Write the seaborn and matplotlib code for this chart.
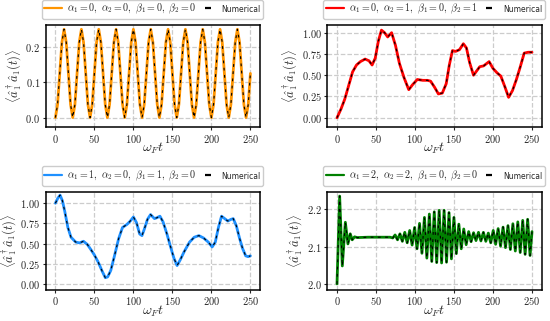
import numpy as np
import matplotlib
matplotlib.use("Agg")
import matplotlib.pyplot as plt
import seaborn as sns
from matplotlib.lines import Line2D

# panel 1: alpha1=0, alpha2=0, beta1=0, beta2=0
t1 = np.linspace(0, 250, 91)
y1 = [0, 0.037, 0.125, 0.213, 0.25, 0.213, 0.125, 0.037,
      0, 0.037, 0.125, 0.213, 0.25, 0.213, 0.125, 0.037,
      0, 0.037, 0.125, 0.213, 0.25, 0.213, 0.125, 0.037,
      0, 0.037, 0.125, 0.213, 0.25, 0.213, 0.125, 0.037,
      0, 0.037, 0.125, 0.213, 0.25, 0.213, 0.125, 0.037,
      0, 0.037, 0.125, 0.213, 0.25, 0.213, 0.125, 0.037,
      0, 0.037, 0.125, 0.213, 0.25, 0.213, 0.125, 0.037,
      0, 0.037, 0.125, 0.213, 0.25, 0.213, 0.125, 0.037,
      0, 0.037, 0.125, 0.213, 0.25, 0.213, 0.125, 0.037,
      0, 0.037, 0.125, 0.213, 0.25, 0.213, 0.125, 0.037,
      0, 0.037, 0.125, 0.213, 0.25, 0.213, 0.125, 0.037,
      0, 0.037, 0.125]

# panel 2: alpha1=0, alpha2=1, beta1=0, beta2=1
t2 = [0, 5, 10, 15, 20, 25, 30, 36, 41, 45, 49, 53, 57, 61, 65, 70, 75, 80, 86, 92,
      97, 103, 110, 116, 120, 125, 130, 135, 140, 144, 148, 152, 157, 162, 166, 170,
      175, 179, 183, 188, 195, 200, 205, 210, 215, 220, 225, 230, 235, 240, 245, 250]
y2 = [0.00, 0.10, 0.22, 0.38, 0.54, 0.62, 0.66, 0.69, 0.67, 0.62, 0.70, 0.90, 1.03,
      1.00, 0.95, 1.00, 0.85, 0.64, 0.47, 0.33, 0.39, 0.45, 0.44, 0.44, 0.43, 0.36,
      0.28, 0.29, 0.40, 0.62, 0.79, 0.78, 0.80, 0.87, 0.82, 0.65, 0.50, 0.55, 0.60,
      0.61, 0.66, 0.58, 0.53, 0.49, 0.37, 0.24, 0.32, 0.45, 0.60, 0.76, 0.77, 0.77]

# panel 3: alpha1=1, alpha2=0, beta1=1, beta2=0
t3 = [0, 3, 6, 9, 12, 16, 20, 26, 31, 36, 41, 46, 50, 55, 60, 64, 67, 71, 76, 81,
      86, 92, 96, 100, 104, 108, 111, 114, 118, 122, 127, 130, 134, 138, 143, 148,
      152, 156, 160, 165, 172, 178, 184, 190, 196, 201, 205, 209, 213, 217, 221,
      225, 228, 232, 236, 240, 244, 247, 250]
y3 = [1.00, 1.06, 1.10, 1.03, 0.90, 0.70, 0.58, 0.52, 0.51, 0.53, 0.49, 0.42, 0.36,
      0.27, 0.16, 0.08, 0.09, 0.17, 0.36, 0.56, 0.70, 0.74, 0.78, 0.83, 0.76, 0.62,
      0.60, 0.68, 0.80, 0.86, 0.81, 0.82, 0.84, 0.77, 0.62, 0.45, 0.32, 0.23, 0.30,
      0.40, 0.52, 0.58, 0.60, 0.57, 0.52, 0.46, 0.52, 0.70, 0.84, 0.81, 0.78, 0.80,
      0.81, 0.72, 0.57, 0.44, 0.35, 0.34, 0.35]

# panel 4: alpha1=2, alpha2=2, beta1=0, beta2=0
t4 = [0, 3.4, 6.8, 10.7, 14, 17, 19.5, 22.5, 26, 40, 60, 68,
      71.5, 74.5, 77.6, 80.7, 83.8, 86.9, 90, 93.2, 96.3, 99.5, 102.6, 105.8,
      108.9, 112.1, 115.2, 118.4, 121.5, 124.7, 127.8, 131, 134.1, 137.3, 140.4,
      143.6, 146.7, 149.9, 153, 156.2, 159.3, 162.5, 165.6, 168.8, 171.9, 175.1,
      178.2, 181.4, 184.5, 187.7, 190.8, 194, 197.1, 200.3, 203.4, 206.6, 209.7,
      212.9, 216, 219.2, 222.3, 225.5, 228.6, 231.8, 234.9, 238.1, 241.2, 244.4,
      247.5, 250]
y4 = [2.000, 2.235, 2.048, 2.165, 2.107, 2.134, 2.118, 2.126, 2.124, 2.125, 2.125, 2.125,
      2.123, 2.131, 2.118, 2.134, 2.114, 2.138, 2.110, 2.143, 2.104, 2.151, 2.094, 2.162,
      2.082, 2.178, 2.069, 2.187, 2.060, 2.193, 2.057, 2.197, 2.056, 2.197, 2.058,
      2.191, 2.067, 2.178, 2.081, 2.160, 2.094, 2.147, 2.105, 2.140, 2.113, 2.137,
      2.116, 2.138, 2.115, 2.138, 2.114, 2.136, 2.110, 2.143, 2.106, 2.148, 2.101,
      2.152, 2.097, 2.156, 2.092, 2.161, 2.088, 2.166, 2.084, 2.170, 2.079, 2.173,
      2.076, 2.140]

labels = [r"$\alpha_1 = 0,\ \alpha_2 = 0,\ \beta_1 = 0,\ \beta_2 = 0$",
          r"$\alpha_1 = 0,\ \alpha_2 = 1,\ \beta_1 = 0,\ \beta_2 = 1$",
          r"$\alpha_1 = 1,\ \alpha_2 = 0,\ \beta_1 = 1,\ \beta_2 = 0$",
          r"$\alpha_1 = 2,\ \alpha_2 = 2,\ \beta_1 = 0,\ \beta_2 = 0$"]
colors = ["#ff9500", "#ff0000", "#1e90ff", "#008000"]
xticks = [0, 50, 100, 150, 200, 250]
yticks = [[0.0, 0.1, 0.2], [0.0, 0.25, 0.5, 0.75, 1.0],
          [0.0, 0.25, 0.5, 0.75, 1.0], [2.0, 2.1, 2.2]]
ylims = [(-0.027, 0.262), (-0.11, 1.09), (-0.07, 1.143), (1.984, 2.247)]

sns.set_style("ticks")
plt.rcParams.update({
    "font.family": "cmr10",
    "mathtext.fontset": "cm",
    "axes.formatter.use_mathtext": True,
    "axes.edgecolor": "black",
    "axes.linewidth": 1.1,
})

fig = plt.figure(figsize=(5.5, 3.21), dpi=100)
pos = [[0.083, 0.604, 0.390, 0.318], [0.595, 0.604, 0.390, 0.318],
       [0.083, 0.097, 0.390, 0.306], [0.595, 0.097, 0.390, 0.306]]
data = [(t1, y1), (t2, y2), (t3, y3), (t4, y4)]

for i in range(4):
    ax = fig.add_axes(pos[i])
    t, y = data[i]
    sns.lineplot(x=t, y=y, ax=ax, color=colors[i], lw=2.0)
    sns.lineplot(x=t, y=y, ax=ax, color="black", lw=0.8, linestyle=(0, (2.5, 4)))
    ax.set_ylim(*ylims[i])
    ax.set_xticks(xticks)
    ax.set_yticks(yticks[i])
    ax.grid(True, ls="--", color="0.8", lw=0.9)
    ax.set_axisbelow(True)
    ax.tick_params(direction="out", length=2.5, width=0.8, pad=1.5, labelsize=7.5)
    ax.set_xlabel(r"$\omega_F t$", fontsize=10, labelpad=-3)
    ax.set_ylabel(r"$\langle \hat{a}_1^\dagger \hat{a}_1(t) \rangle$", fontsize=9, labelpad=1)
    handles = [Line2D([], [], color=colors[i], lw=1.6),
               Line2D([], [], color="black", marker="_", ls="none", markersize=4, mew=1.6)]
    leg = ax.legend(handles, [labels[i], "Numerical"], loc="lower left",
                    bbox_to_anchor=(-0.019, 1.06, 1.034, 0.1), mode="expand", ncol=2,
                    fontsize=7.2, borderpad=0.25, handlelength=1.8, handletextpad=0.5,
                    borderaxespad=0, frameon=True, fancybox=True,
                    framealpha=1, edgecolor="0.8")
    leg.get_texts()[1].set_fontfamily("DejaVu Sans")
    leg.get_texts()[1].set_fontsize(5.5)

fig.savefig("out.png", dpi=100)
